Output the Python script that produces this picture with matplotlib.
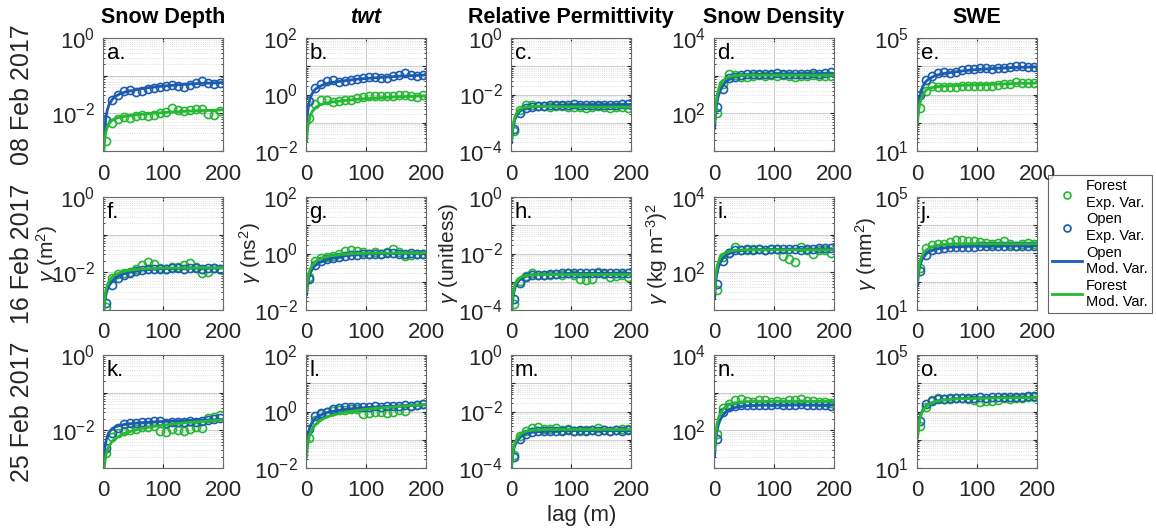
import math
import matplotlib
matplotlib.use("Agg")
import matplotlib.pyplot as plt
from matplotlib.lines import Line2D
from matplotlib.ticker import LogLocator, NullFormatter

plt.rcParams["font.family"] = ["Liberation Sans", "DejaVu Sans"]
plt.rcParams["mathtext.fontset"] = "custom"
plt.rcParams["mathtext.rm"] = "Liberation Sans"
plt.rcParams["mathtext.it"] = "Liberation Sans:italic"

# lags of the experimental variograms and of the model curves (m)
lag_exp = [5, 15, 25, 35, 45, 55, 65, 75, 85, 95, 105, 115, 125, 135, 145, 155, 165, 175, 185, 195]
lag_mod = [1, 2, 3, 5, 7, 10, 15, 20, 30, 40, 60, 80, 100, 130, 160, 200]

columns = ["Snow Depth", "twt", "Relative Permittivity", "Snow Density", "SWE"]
dates = ["08 Feb 2017", "16 Feb 2017", "25 Feb 2017"]
ylabels = [r"$\gamma$ (m$^2$)", r"$\gamma$ (ns$^2$)", r"$\gamma$ (unitless)",
           r"$\gamma$ (kg m$^{-3}$)$^2$", r"$\gamma$ (mm$^2$)"]
ylims = [(1e-3, 1e0), (1e-2, 1e2), (1e-4, 1e0), (1e1, 1e4), (1e1, 1e5)]
labelled = [[-2, 0], [-2, 0, 2], [-4, -2, 0], [2, 4], [1, 5]]

# ---- 08 Feb 2017 ----
a_open = [0.0068, 0.023, 0.031, 0.040, 0.042, 0.037, 0.040, 0.045, 0.047, 0.050,
          0.053, 0.055, 0.052, 0.050, 0.058, 0.062, 0.072, 0.062, 0.060, 0.065]
a_forest = [0.0018, 0.0055, 0.0072, 0.0078, 0.0075, 0.0085, 0.0088, 0.0086, 0.0092, 0.0105,
            0.011, 0.0135, 0.012, 0.0118, 0.012, 0.013, 0.013, 0.0095, 0.009, 0.0115]
a_open_mod = [0.0009, 0.002, 0.004, 0.008, 0.012, 0.017, 0.023, 0.028, 0.034, 0.038,
              0.044, 0.049, 0.053, 0.058, 0.062, 0.066]
a_forest_mod = [0.0008, 0.0015, 0.0022, 0.0033, 0.0043, 0.0053, 0.0065, 0.0072, 0.0080, 0.0085,
                0.0093, 0.0100, 0.0105, 0.0112, 0.0118, 0.0123]

b_open = [0.6, 1.7, 2.4, 3.0, 3.2, 2.7, 2.9, 3.3, 3.6, 3.8,
          4.0, 4.1, 3.8, 3.9, 4.4, 4.8, 5.8, 5.0, 4.6, 4.8]
b_forest = [0.15, 0.45, 0.65, 0.62, 0.55, 0.6, 0.62, 0.65, 0.75, 0.8,
            0.85, 0.9, 0.85, 0.85, 0.9, 0.95, 1.0, 0.85, 0.8, 0.95]
b_open_mod = [0.08, 0.17, 0.27, 0.5, 0.75, 1.05, 1.5, 1.8, 2.3, 2.6,
              3.0, 3.4, 3.7, 4.1, 4.5, 4.9]
b_forest_mod = [0.022, 0.045, 0.07, 0.12, 0.17, 0.24, 0.33, 0.4, 0.48, 0.53,
                0.6, 0.66, 0.71, 0.78, 0.84, 0.9]

c_open = [6e-4, 0.0022, 0.0033, 0.0036, 0.0038, 0.0040, 0.0042, 0.0041, 0.0043, 0.0044,
          0.0045, 0.0044, 0.0043, 0.0044, 0.0043, 0.0042, 0.0043, 0.0044, 0.0046, 0.0048]
c_forest = [5e-4, 0.0028, 0.0042, 0.0043, 0.0040, 0.0038, 0.0036, 0.0038, 0.0040, 0.0037,
            0.0036, 0.0035, 0.0033, 0.0036, 0.0038, 0.0035, 0.0034, 0.0036, 0.0035, 0.0033]
c_open_mod = [2e-4, 4e-4, 6e-4, 0.001, 0.0014, 0.0019, 0.0026, 0.003, 0.0035, 0.0038,
              0.004, 0.0041, 0.0042, 0.0043, 0.0043, 0.0044]
c_forest_mod = [2.5e-4, 5e-4, 7.5e-4, 0.0012, 0.0017, 0.0023, 0.003, 0.0034, 0.0037, 0.0038,
                0.0038, 0.0037, 0.0037, 0.0036, 0.0036, 0.0036]

d_open = [150, 450, 850, 950, 1050, 1080, 1100, 1100, 1120, 1100,
          1150, 1120, 1100, 1130, 1100, 1120, 1150, 1130, 1180, 1250]
d_forest = [100, 600, 1100, 1050, 950, 950, 1000, 1050, 1000, 1050,
            1000, 1050, 1000, 950, 1000, 1000, 1050, 1000, 1000, 1000]
d_open_mod = [40, 80, 120, 200, 280, 390, 560, 700, 880, 980,
              1060, 1090, 1100, 1110, 1120, 1130]
d_forest_mod = [60, 120, 180, 290, 400, 550, 740, 860, 970, 1010,
                1030, 1030, 1030, 1030, 1030, 1030]

e_open = [950, 3200, 4500, 5800, 6300, 6000, 6500, 7300, 7800, 8200,
          8600, 8700, 8300, 8600, 9000, 9500, 10000, 9800, 9200, 9500]
e_forest = [330, 1300, 2000, 1800, 1800, 1900, 1850, 1950, 2000, 2050,
            2000, 1950, 2000, 2100, 2300, 2400, 2800, 2500, 2600, 2600]
e_open_mod = [160, 330, 500, 900, 1400, 2000, 2900, 3600, 4600, 5300,
              6200, 7000, 7600, 8400, 9000, 9600]
e_forest_mod = [100, 200, 300, 500, 700, 1000, 1400, 1650, 1850, 1950,
                2050, 2150, 2200, 2300, 2450, 2550]

# ---- 16 Feb 2017 ----
f_open = [0.0015, 0.0045, 0.007, 0.0085, 0.0095, 0.011, 0.0115, 0.012, 0.0125, 0.012,
          0.0125, 0.013, 0.0128, 0.0125, 0.013, 0.0128, 0.0125, 0.013, 0.0128, 0.0125]
f_forest = [0.0012, 0.007, 0.009, 0.0095, 0.0105, 0.012, 0.016, 0.019, 0.017, 0.013,
            0.0125, 0.014, 0.0135, 0.016, 0.018, 0.014, 0.0095, 0.0105, 0.013, 0.0125]
f_open_mod = [7e-4, 0.0012, 0.0017, 0.0026, 0.0034, 0.0044, 0.0058, 0.0069, 0.0085, 0.0097,
              0.0112, 0.012, 0.0125, 0.0128, 0.013, 0.013]
f_forest_mod = [9e-4, 0.0016, 0.0023, 0.0035, 0.0045, 0.0058, 0.0074, 0.0085, 0.0101, 0.0111,
                0.0122, 0.0127, 0.013, 0.0131, 0.0132, 0.0132]

g_open = [0.13, 0.4, 0.55, 0.65, 0.7, 0.75, 0.8, 0.85, 0.9, 0.95,
          1.0, 1.0, 1.0, 1.05, 1.05, 1.0, 1.0, 1.05, 1.0, 1.0]
g_forest = [0.15, 0.55, 0.7, 0.75, 0.8, 0.95, 1.2, 1.3, 1.2, 1.1,
            1.0, 1.1, 1.0, 1.15, 1.4, 1.1, 0.8, 0.85, 1.0, 1.0]
g_open_mod = [0.035, 0.065, 0.095, 0.15, 0.2, 0.27, 0.37, 0.45, 0.57, 0.66,
              0.8, 0.9, 0.96, 1.0, 1.02, 1.03]
g_forest_mod = [0.045, 0.09, 0.13, 0.21, 0.28, 0.37, 0.5, 0.6, 0.73, 0.82,
                0.93, 0.99, 1.02, 1.04, 1.05, 1.05]

h_open = [2.4e-4, 0.0009, 0.0015, 0.0017, 0.0018, 0.0018, 0.0019, 0.0019, 0.002, 0.002,
          0.002, 0.0021, 0.002, 0.002, 0.0021, 0.002, 0.002, 0.0021, 0.0021, 0.0021]
h_forest = [1.6e-4, 0.0011, 0.0016, 0.0021, 0.0018, 0.0017, 0.0018, 0.0019, 0.0018, 0.0021,
            0.0018, 0.0013, 0.0012, 0.0013, 0.0022, 0.0019, 0.0015, 0.0016, 0.0018, 0.0015]
h_open_mod = [8e-5, 1.6e-4, 2.5e-4, 4.5e-4, 6.5e-4, 9e-4, 0.0012, 0.0014, 0.0017, 0.0018,
              0.0019, 0.0019, 0.002, 0.002, 0.002, 0.002]
h_forest_mod = [1.2e-4, 2.4e-4, 3.6e-4, 6e-4, 8.3e-4, 0.0011, 0.0014, 0.0016, 0.0017, 0.0018,
                0.0018, 0.0018, 0.0018, 0.0018, 0.0018, 0.0018]

i_open = [50, 200, 330, 380, 400, 410, 400, 410, 400, 420,
          410, 420, 410, 420, 400, 420, 410, 430, 440, 440]
i_forest = [35, 250, 330, 460, 400, 390, 410, 420, 400, 410,
            420, 270, 230, 190, 460, 390, 300, 380, 390, 330]
i_open_mod = [20, 40, 60, 95, 130, 175, 240, 285, 340, 370,
              395, 405, 410, 415, 415, 420]
i_forest_mod = [30, 60, 88, 140, 185, 240, 300, 340, 375, 390,
                395, 395, 395, 395, 395, 395]

j_open = [240, 900, 1300, 1500, 1600, 1650, 1700, 1700, 1750, 1750,
          1800, 1800, 1800, 1850, 1850, 1850, 1900, 1900, 1900, 1850]
j_forest = [300, 1600, 2000, 2100, 2200, 2600, 3100, 3100, 2800, 2700,
            2600, 2400, 2200, 2300, 2700, 2200, 1900, 2100, 2300, 2200]
j_open_mod = [80, 160, 240, 380, 520, 700, 950, 1150, 1400, 1550,
              1700, 1780, 1820, 1850, 1860, 1870]
j_forest_mod = [110, 220, 330, 530, 720, 980, 1300, 1550, 1850, 2000,
                2150, 2200, 2200, 2200, 2200, 2200]

# ---- 25 Feb 2017 ----
k_open = [0.0034, 0.0085, 0.0115, 0.0145, 0.016, 0.0155, 0.017, 0.0165, 0.018, 0.0175,
          0.016, 0.0165, 0.017, 0.0165, 0.018, 0.017, 0.0175, 0.019, 0.02, 0.021]
k_forest = [0.0025, 0.0065, 0.0085, 0.0095, 0.0105, 0.011, 0.012, 0.0125, 0.013, 0.0095,
            0.009, 0.011, 0.0105, 0.0095, 0.011, 0.012, 0.0115, 0.021, 0.022, 0.025]
k_open_mod = [0.0012, 0.0023, 0.0033, 0.0052, 0.0068, 0.0088, 0.011, 0.0123, 0.0138, 0.0147,
              0.0158, 0.0166, 0.0172, 0.018, 0.0186, 0.0193]
k_forest_mod = [0.0005, 0.001, 0.0014, 0.0022, 0.003, 0.0038, 0.005, 0.006, 0.0075, 0.0088,
                0.0108, 0.0124, 0.0138, 0.0155, 0.017, 0.0188]

l_open = [0.25, 0.7, 0.9, 1.0, 1.2, 1.3, 1.4, 1.4, 1.5, 1.5,
          1.5, 1.6, 1.5, 1.55, 1.6, 1.6, 1.7, 1.6, 1.7, 1.8]
l_forest = [0.12, 0.5, 0.8, 0.95, 1.05, 1.1, 1.15, 1.2, 1.25, 0.8,
            0.85, 1.0, 0.95, 0.85, 1.0, 1.1, 1.05, 1.6, 1.7, 1.9]
l_open_mod = [0.05, 0.1, 0.14, 0.22, 0.3, 0.4, 0.55, 0.67, 0.85, 0.98,
              1.15, 1.28, 1.38, 1.5, 1.6, 1.72]
l_forest_mod = [0.025, 0.05, 0.075, 0.12, 0.17, 0.23, 0.33, 0.42, 0.57, 0.7,
                0.9, 1.05, 1.2, 1.38, 1.55, 1.75]

m_open = [2.5e-4, 0.0011, 0.0016, 0.0019, 0.002, 0.002, 0.0021, 0.002, 0.0021, 0.0022,
          0.0021, 0.0022, 0.0021, 0.0022, 0.0021, 0.0022, 0.0021, 0.0022, 0.0021, 0.0022]
m_forest = [3e-4, 0.0014, 0.002, 0.0026, 0.0028, 0.0025, 0.0024, 0.0026, 0.0022, 0.0024,
            0.002, 0.0021, 0.0023, 0.0022, 0.0026, 0.0023, 0.002, 0.0023, 0.0025, 0.0024]
m_open_mod = [1e-4, 2e-4, 3e-4, 5e-4, 6.8e-4, 9e-4, 0.0012, 0.0015, 0.0018, 0.0019,
              0.002, 0.0021, 0.0021, 0.0021, 0.0021, 0.0021]
m_forest_mod = [1.2e-4, 2.4e-4, 3.6e-4, 6e-4, 8.2e-4, 0.0011, 0.0015, 0.0018, 0.0021, 0.0022,
                0.0023, 0.0023, 0.0023, 0.0023, 0.0023, 0.0023]

n_open = [60, 300, 420, 450, 470, 460, 470, 480, 470, 480,
          490, 480, 470, 480, 490, 470, 480, 470, 460, 450]
n_forest = [80, 380, 500, 650, 700, 600, 580, 650, 620, 560,
            600, 580, 650, 620, 700, 600, 600, 580, 550, 520]
n_open_mod = [20, 40, 60, 100, 135, 185, 255, 310, 380, 420,
              455, 465, 470, 470, 470, 470]
n_forest_mod = [30, 60, 90, 145, 200, 270, 360, 430, 510, 550,
                580, 585, 585, 585, 585, 585]

o_open = [450, 1800, 2400, 2700, 2800, 2900, 3000, 3000, 3100, 3100,
          3200, 3100, 3200, 3200, 3300, 3200, 3300, 3300, 3400, 3400]
o_forest = [300, 1500, 2600, 3000, 2800, 2700, 2900, 3000, 2800, 2500,
            2200, 2400, 2300, 2500, 2900, 2800, 2900, 3100, 3300, 3300]
o_open_mod = [130, 260, 380, 620, 850, 1150, 1550, 1850, 2250, 2500,
              2800, 2950, 3050, 3150, 3200, 3250]
o_forest_mod = [120, 240, 360, 580, 800, 1100, 1500, 1800, 2250, 2500,
                2750, 2850, 2900, 3000, 3050, 3150]

panels = [
    ("a.", a_open, a_forest, a_open_mod, a_forest_mod),
    ("b.", b_open, b_forest, b_open_mod, b_forest_mod),
    ("c.", c_open, c_forest, c_open_mod, c_forest_mod),
    ("d.", d_open, d_forest, d_open_mod, d_forest_mod),
    ("e.", e_open, e_forest, e_open_mod, e_forest_mod),
    ("f.", f_open, f_forest, f_open_mod, f_forest_mod),
    ("g.", g_open, g_forest, g_open_mod, g_forest_mod),
    ("h.", h_open, h_forest, h_open_mod, h_forest_mod),
    ("i.", i_open, i_forest, i_open_mod, i_forest_mod),
    ("j.", j_open, j_forest, j_open_mod, j_forest_mod),
    ("k.", k_open, k_forest, k_open_mod, k_forest_mod),
    ("l.", l_open, l_forest, l_open_mod, l_forest_mod),
    ("m.", m_open, m_forest, m_open_mod, m_forest_mod),
    ("n.", n_open, n_forest, n_open_mod, n_forest_mod),
    ("o.", o_open, o_forest, o_open_mod, o_forest_mod),
]

blue = "#1c5cb0"
green = "#25b833"

W, H = 1156, 529
fig = plt.figure(figsize=(W / 100, H / 100), dpi=100)

col_left = [103, 306, 511, 714, 917]
row_top = [38, 197, 355]
aw, ah = 120, 113
ylab_x = [47, 250, 449, 657, 866]

for idx, (letter, op, fo, op_mod, fo_mod) in enumerate(panels):
    r, c = divmod(idx, 5)
    ax = fig.add_axes([col_left[c] / W, 1 - (row_top[r] + ah) / H, aw / W, ah / H])
    ax.plot(lag_exp, fo, "o", mfc="none", mec=green, ms=5.8, mew=1.2)
    ax.plot(lag_exp, op, "o", mfc="none", mec=blue, ms=5.8, mew=1.2)
    ax.plot(lag_mod, op_mod, "-", color=blue, lw=2.0)
    ax.plot(lag_mod, fo_mod, "-", color=green, lw=2.0)
    ax.set_yscale("log")
    ax.set_xlim(0, 200)
    lo, hi = ylims[c]
    ax.set_ylim(lo, hi)
    ax.set_xticks([0, 100, 200])
    ax.set_xticklabels(["0", "100", "200"])
    decades = list(range(int(round(math.log10(lo))), int(round(math.log10(hi))) + 1))
    ax.set_yticks([10.0 ** d for d in decades])
    ax.set_yticklabels(["$10^{%d}$" % d if d in labelled[c] else "" for d in decades])
    ax.yaxis.set_minor_locator(LogLocator(base=10, subs=range(2, 10), numticks=20))
    ax.yaxis.set_minor_formatter(NullFormatter())
    ax.grid(True, which="major", color="#cfcfcf", lw=0.8)
    ax.grid(True, which="minor", axis="y", color="#d6d6d6", lw=0.6, ls=":")
    ax.set_axisbelow(True)
    ax.tick_params(which="both", direction="in", top=True, right=True,
                   labelsize=16, colors="#262626", pad=6)
    ax.tick_params(which="major", length=3)
    ax.tick_params(which="minor", length=1.5)
    ax.tick_params(axis="x", pad=9)
    for s in ax.spines.values():
        s.set_color("#6a6a6a")
        s.set_linewidth(0.8)
    ax.text(0.03, 0.96, letter, transform=ax.transAxes, ha="left", va="top", fontsize=16)
    if r == 0:
        if c == 1:
            ax.set_title("twt", fontsize=15.5, fontweight="bold", fontstyle="italic", pad=11)
        else:
            ax.set_title(columns[c], fontsize=15.5, fontweight="bold", pad=11)

for r, d in enumerate(dates):
    fig.text(22 / W, 1 - (row_top[r] + ah / 2) / H, d, rotation=90,
             ha="center", va="center", fontsize=18, color="#262626")

for c, lab in enumerate(ylabels):
    fig.text(ylab_x[c] / W, 1 - (row_top[1] + ah / 2) / H, lab, rotation=90,
             ha="center", va="center", fontsize=15, color="#262626")

fig.text(582 / W, 1 - 515 / H, "lag (m)", ha="center", va="center", fontsize=16, color="#262626")

handles = [
    Line2D([], [], ls="none", marker="o", mfc="none", mec=green, ms=5, mew=1.2),
    Line2D([], [], ls="none", marker="o", mfc="none", mec=blue, ms=5, mew=1.2),
    Line2D([], [], color=blue, lw=2),
    Line2D([], [], color=green, lw=2),
]
labels = ["Forest\nExp. Var.", "Open\nExp. Var.", "Open\nMod. Var.", "Forest\nMod. Var."]
leg = fig.legend(handles, labels, loc="upper right", bbox_to_anchor=(1152 / W, 1 - 175 / H),
                 fontsize=10.5, frameon=True, fancybox=False, edgecolor="#404040",
                 handlelength=2.0, handletextpad=0.3, borderpad=0.3, labelspacing=0.2,
                 borderaxespad=0)
leg.get_frame().set_linewidth(0.8)

fig.savefig("out.png", dpi=100)
